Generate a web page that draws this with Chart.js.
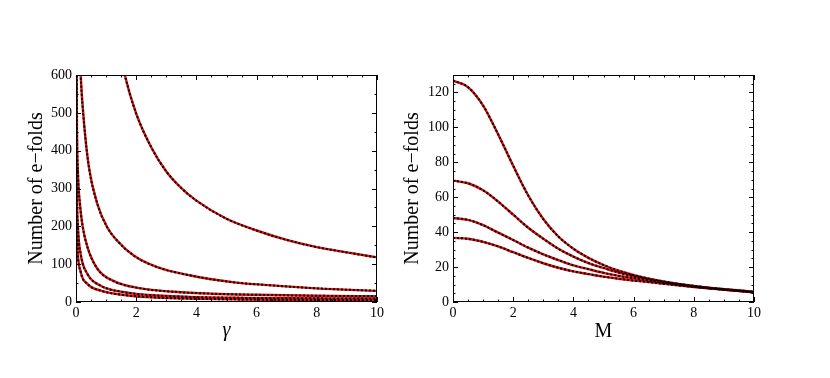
<!DOCTYPE html>
<html>
<head>
<meta charset="utf-8">
<script src="https://cdn.jsdelivr.net/npm/chart.js@4.4.1/dist/chart.umd.min.js"></script>
<style>
  body { margin: 0; background: #fff; }
  #wrap { position: relative; width: 830px; height: 378px; }
  canvas { position: absolute; top: 0; }
</style>
</head>
<body>
<div id="wrap">
  <canvas id="chart-gamma" width="400" height="378" style="left:0"></canvas>
  <canvas id="chart-mass" width="430" height="378" style="left:400px"></canvas>
</div>
<script>
// painel esquerdo: e-folds vs gamma (5 curvas)
const gammaA = [1.45, 1.62, 2, 2.5, 3, 3.5, 4, 5, 6, 7, 8, 9, 10];
const efoldsA = [665, 600, 498, 409, 345, 301, 268, 220, 189, 164, 145, 131, 118];
const gammaB = [0.1, 0.155, 0.27, 0.43, 0.71, 1.04, 1.37, 1.93, 2.7, 3.81, 5.25, 6.5, 8, 10];
const efoldsB = [720, 600, 470, 356, 259, 197, 162, 122, 92, 70, 52, 44, 36, 29.5];
const gammaC = [0.01, 0.03, 0.07, 0.13, 0.21, 0.38, 0.71, 1.26, 2.15, 3.26, 4.5, 6, 8, 10];
const efoldsC = [800, 480, 330, 260, 205, 145, 88, 55, 36, 27, 22, 19, 16.5, 15];
const gammaD = [0.005, 0.02, 0.066, 0.155, 0.38, 0.82, 1.6, 2.7, 4, 5.5, 7, 8.5, 10];
const efoldsD = [800, 380, 197, 127, 74, 43, 26, 17, 13, 11, 10, 9.5, 9];
const gammaE = [0.003, 0.012, 0.044, 0.155, 0.38, 0.82, 1.6, 2.7, 4, 5.5, 7, 8.5, 10];
const efoldsE = [800, 330, 150, 80, 48, 30, 18.5, 11.5, 8.5, 6.8, 5.8, 5, 4.5];

// painel direito: e-folds vs M (4 curvas)
const massM = [0, 0.5, 1, 1.5, 2, 2.5, 3, 3.5, 4, 4.5, 5, 5.5, 6.5, 8, 10];
const efoldsM1 = [126.8, 123, 112.5, 96, 78, 61, 47.5, 37.5, 30.5, 25.3, 21.2, 17.9, 13.4, 9.2, 5.8];
const efoldsM2 = [69.5, 68, 64, 57.5, 50, 42.5, 36.2, 30.5, 26, 22.3, 19.5, 16.9, 13, 9, 5.7];
const efoldsM3 = [48.1, 47, 44, 39.7, 35.5, 31.1, 27.3, 24, 21, 18.8, 16.7, 15, 12.3, 8.8, 5.6];
const efoldsM4 = [36.7, 36.2, 34.4, 31.8, 28.5, 25.2, 22.2, 19.6, 17.5, 16, 14.5, 13.3, 11.4, 8.6, 5.5];

const xTicks = [0, 2, 4, 6, 8, 10];
const yTicksGamma = [0, 100, 200, 300, 400, 500, 600];
const yTicksMass = [0, 20, 40, 60, 80, 100, 120];

const FONT = "'Liberation Serif', 'DejaVu Serif', serif";

// cada curva: linha vermelha sólida com tracejado preto por cima
function curvePair(xs, ys) {
    const pts = xs.map((x, i) => ({ x: x, y: ys[i] }));
    return [
        { data: pts, borderColor: '#e01010', borderWidth: 2.4, pointRadius: 0,
          cubicInterpolationMode: 'monotone', order: 1 },
        { data: pts, borderColor: '#000', borderWidth: 2, borderDash: [2, 2], pointRadius: 0,
          cubicInterpolationMode: 'monotone', order: 0 }
    ];
}

// moldura e marcas internas (estilo Mathematica)
const frameTicks = {
    id: 'frameTicks',
    afterDraw(chart, args, opts) {
        const { ctx, chartArea: a, scales } = chart;
        const xs = scales.x, ys = scales.y;
        ctx.save();
        ctx.strokeStyle = '#000';
        ctx.lineWidth = 1;
        ctx.strokeRect(a.left + 0.5, a.top + 0.5, a.right - a.left - 1, a.bottom - a.top - 1);

        const tick = (len, v, axis) => {
            ctx.beginPath();
            if (axis === 'x') {
                const p = Math.round(xs.getPixelForValue(v)) + 0.5;
                ctx.moveTo(p, a.bottom); ctx.lineTo(p, a.bottom - len);
                ctx.moveTo(p, a.top); ctx.lineTo(p, a.top + len);
            } else {
                const p = Math.round(ys.getPixelForValue(v)) + 0.5;
                ctx.moveTo(a.left, p); ctx.lineTo(a.left + len, p);
                ctx.moveTo(a.right, p); ctx.lineTo(a.right - len, p);
            }
            ctx.stroke();
        };
        for (let v = xs.min; v <= xs.max + 1e-9; v += opts.xMinor) tick(2.5, v, 'x');
        for (let v = ys.min; v <= ys.max + 1e-9; v += opts.yMinor) tick(2.5, v, 'y');
        xs.ticks.forEach(t => tick(5, t.value, 'x'));
        ys.ticks.forEach(t => tick(5, t.value, 'y'));
        ctx.restore();
    }
};

function buildChart(id, datasets, cfg) {
    const el = document.getElementById(id);
    if (!el) return;
    return new Chart(el.getContext('2d'), {
        type: 'line',
        data: { datasets: datasets },
        plugins: [frameTicks],
        options: {
            responsive: false,
            animation: false,
            devicePixelRatio: 1,
            layout: { padding: cfg.padding },
            plugins: {
                legend: { display: false },
                tooltip: { enabled: false },
                frameTicks: { xMinor: 0.5, yMinor: cfg.yMinor }
            },
            scales: {
                x: {
                    type: 'linear', min: 0, max: 10,
                    afterFit: s => { s.height = 76; },
                    afterBuildTicks: s => { s.ticks = xTicks.map(v => ({ value: v })); },
                    grid: { display: false, drawTicks: false }, border: { display: false },
                    ticks: { color: '#000', padding: 3, maxRotation: 0, font: { family: FONT, size: 14 } },
                    title: { display: true, text: cfg.xTitle, color: '#000',
                             padding: { top: 0, bottom: cfg.xTitlePad },
                             font: { family: FONT, size: 20, style: cfg.xStyle } }
                },
                y: {
                    type: 'linear', min: 0, max: cfg.yMax,
                    afterFit: s => { s.width = cfg.yWidth; },
                    afterBuildTicks: s => { s.ticks = cfg.yTicks.map(v => ({ value: v })); },
                    grid: { display: false, drawTicks: false }, border: { display: false },
                    ticks: { color: '#000', padding: 4, font: { family: FONT, size: 14 } },
                    title: { display: true, text: 'Number of e\u2212folds', color: '#000',
                             padding: { top: cfg.yTitlePad, bottom: 0 },
                             font: { family: FONT, size: 20 } }
                }
            }
        }
    });
}

document.addEventListener('DOMContentLoaded', () => {
    buildChart('chart-gamma', [
        ...curvePair(gammaA, efoldsA),
        ...curvePair(gammaB, efoldsB),
        ...curvePair(gammaC, efoldsC),
        ...curvePair(gammaD, efoldsD),
        ...curvePair(gammaE, efoldsE)
    ], {
        padding: { top: 75, right: 23, left: 0, bottom: 0 },
        yWidth: 76, yMax: 600, yTicks: yTicksGamma, yMinor: 50,
        xTitle: '\u03b3', xStyle: 'italic', xTitlePad: 35, yTitlePad: 25
    });

    buildChart('chart-mass', [
        ...curvePair(massM, efoldsM1),
        ...curvePair(massM, efoldsM2),
        ...curvePair(massM, efoldsM3),
        ...curvePair(massM, efoldsM4)
    ], {
        padding: { top: 75, right: 76, left: 0, bottom: 0 },
        yWidth: 53, yMax: 130, yTicks: yTicksMass, yMinor: 5,
        xTitle: 'M', xStyle: 'normal', xTitlePad: 34, yTitlePad: 1
    });
});
</script>
</body>
</html>
